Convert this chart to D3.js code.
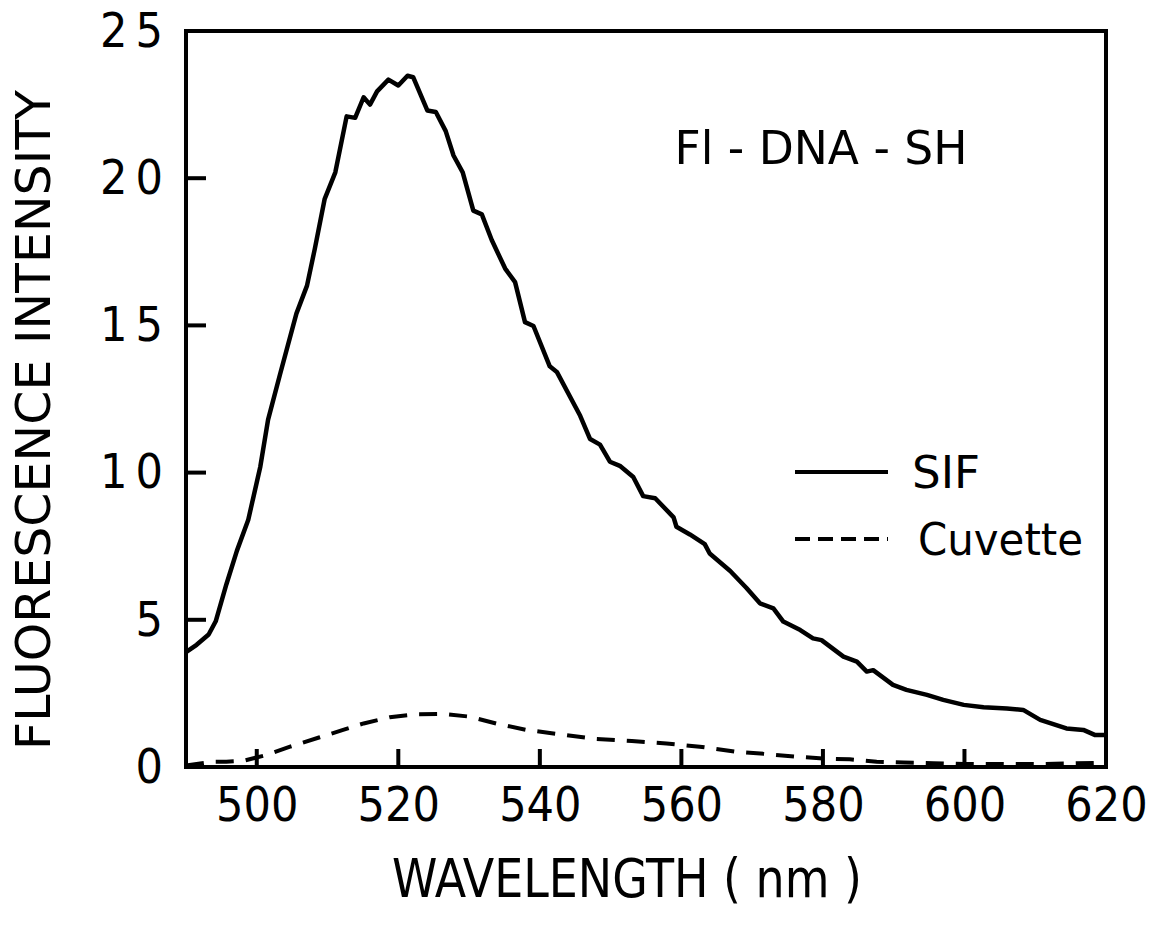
<!DOCTYPE html>
<html>
<head>
<meta charset="utf-8">
<script src="https://cdn.jsdelivr.net/npm/d3@7"></script>
<style>
  body { margin: 0; background: #fff; }
  text { font-family: "DejaVu Sans Condensed", "DejaVu Sans", sans-serif; fill: #000; }
</style>
</head>
<body>
<div id="chart"></div>
<script>
// wavelength (nm) / intensity
var sifWave = [490, 491.5, 493.2, 494.2, 495.7, 497.2, 498.8, 500.5, 501.6, 503.3, 505.6, 507.1, 508.2, 509.6,
  511.1, 512.7, 513.9, 515.1, 516, 517, 518.6, 520, 521.3, 522.1, 524.1, 525.3, 526.7, 527.8, 529.1, 530.6,
  531.8, 533.2, 535.1, 536.5, 537.9, 539.1, 541.4, 542.4, 545.7, 547.1, 548.5, 549.9, 551.3, 553.2, 554.6,
  556.3, 558.9, 559.3, 561.2, 563.3, 564, 566.9, 569.2, 571.1, 573, 574.4, 576.8, 578.6, 579.8, 582.9,
  584.8, 586.2, 587.1, 589.9, 591.8, 594.7, 597, 599.9, 602.7, 606, 608.3, 610.7, 614.4, 616.8, 618.4, 620];
var sifValue = [3.9, 4.15, 4.5, 4.95, 6.2, 7.35, 8.4, 10.2, 11.8, 13.35, 15.4, 16.35, 17.6, 19.3,
  20.2, 22.1, 22.05, 22.75, 22.5, 22.95, 23.35, 23.15, 23.48, 23.43, 22.3, 22.25, 21.6, 20.77, 20.2, 18.9,
  18.77, 17.9, 16.93, 16.47, 15.11, 14.98, 13.61, 13.42, 11.93, 11.14, 10.95, 10.37, 10.23, 9.85, 9.2,
  9.13, 8.48, 8.16, 7.9, 7.57, 7.25, 6.66, 6.08, 5.56, 5.39, 4.94, 4.65, 4.37, 4.31, 3.75,
  3.58, 3.24, 3.29, 2.79, 2.62, 2.45, 2.28, 2.11, 2.03, 1.99, 1.94, 1.6, 1.31, 1.26, 1.09, 1.09];

var cuvWave = [490, 492, 493.9, 495.7, 498.1, 501.4, 504.7, 508.9, 512.2, 515.1, 518.8, 522.6, 526.4, 530.1,
  534.1, 538.1, 543.5, 548, 553, 557.9, 562.6, 567.6, 572, 576.3, 580, 583.8, 587.6, 591.4, 595.6, 600,
  605, 610, 615, 620];
var cuvValue = [0.05, 0.12, 0.18, 0.18, 0.21, 0.41, 0.69, 1.01, 1.26, 1.48, 1.69, 1.79, 1.8, 1.71,
  1.46, 1.26, 1.09, 0.95, 0.88, 0.8, 0.69, 0.52, 0.44, 0.35, 0.29, 0.26, 0.18, 0.15, 0.13, 0.1,
  0.1, 0.1, 0.12, 0.15];

var xTicks = [500, 520, 540, 560, 580, 600, 620];
var yTicks = [0, 5, 10, 15, 20, 25];

function pairs(xs, ys) {
  var out = [];
  for (var i = 0; i < xs.length; i++) {
    out.push({ w: xs[i], v: ys[i] });
  }
  return out;
}

var W = 1163, H = 925;
var plotLeft = 186, plotRight = 1106, plotTop = 31, plotBottom = 767;

var svg = d3.select("#chart").append("svg")
  .attr("width", W)
  .attr("height", H);

var x = d3.scaleLinear().domain([490, 620]).range([plotLeft, plotRight]);
var y = d3.scaleLinear().domain([0, 25]).range([plotBottom, plotTop]);

// axis labels through d3 axes, tick marks drawn separately (inward)
var gx = svg.append("g")
  .attr("transform", "translate(0," + plotBottom + ")")
  .call(d3.axisBottom(x).tickValues(xTicks).tickSize(0).tickPadding(20));
gx.select(".domain").remove();
gx.selectAll(".tick line").remove();
gx.selectAll(".tick text").attr("font-size", 48).attr("fill", "#000");

var gy = svg.append("g")
  .attr("transform", "translate(" + plotLeft + ",0)")
  .call(d3.axisLeft(y).tickValues(yTicks).tickSize(0).tickPadding(23));
gy.select(".domain").remove();
gy.selectAll(".tick line").remove();
gy.selectAll(".tick text")
  .attr("font-size", 48)
  .attr("fill", "#000")
  .attr("letter-spacing", 8)
  .attr("dx", 8);

svg.selectAll("line.xtick").data(xTicks.filter(function(d) { return d < 620; })).enter()
  .append("line")
    .attr("class", "xtick")
    .attr("x1", function(d) { return x(d); })
    .attr("x2", function(d) { return x(d); })
    .attr("y1", plotBottom)
    .attr("y2", plotBottom - 18)
    .attr("stroke", "#000")
    .attr("stroke-width", 4);

svg.selectAll("line.ytick").data(yTicks.filter(function(d) { return d > 0 && d < 25; })).enter()
  .append("line")
    .attr("class", "ytick")
    .attr("x1", plotLeft)
    .attr("x2", plotLeft + 20)
    .attr("y1", function(d) { return y(d); })
    .attr("y2", function(d) { return y(d); })
    .attr("stroke", "#000")
    .attr("stroke-width", 4);

// frame
svg.append("rect")
  .attr("x", plotLeft).attr("y", plotTop)
  .attr("width", plotRight - plotLeft).attr("height", plotBottom - plotTop)
  .attr("fill", "none")
  .attr("stroke", "#000")
  .attr("stroke-width", 4);

var line = d3.line()
  .x(function(d) { return x(d.w); })
  .y(function(d) { return y(d.v); });

svg.append("path")
  .datum(pairs(sifWave, sifValue))
  .attr("fill", "none")
  .attr("stroke", "#000")
  .attr("stroke-width", 4.5)
  .attr("stroke-linejoin", "round")
  .attr("d", line);

svg.append("path")
  .datum(pairs(cuvWave, cuvValue))
  .attr("fill", "none")
  .attr("stroke", "#000")
  .attr("stroke-width", 4)
  .attr("stroke-dasharray", "18,12")
  .attr("d", line);

// axis titles
svg.append("text")
  .attr("transform", "translate(50,420) rotate(-90)")
  .attr("text-anchor", "middle")
  .attr("font-size", 48)
  .attr("textLength", 660)
  .attr("lengthAdjust", "spacingAndGlyphs")
  .text("FLUORESCENCE INTENSITY");

svg.append("text")
  .attr("x", 627).attr("y", 897)
  .attr("text-anchor", "middle")
  .attr("font-size", 54)
  .attr("textLength", 470)
  .attr("lengthAdjust", "spacingAndGlyphs")
  .text("WAVELENGTH ( nm )");

// sample label
svg.append("text")
  .attr("x", 821).attr("y", 164)
  .attr("text-anchor", "middle")
  .attr("font-size", 46)
  .attr("textLength", 293)
  .attr("lengthAdjust", "spacingAndGlyphs")
  .text("Fl - DNA - SH");

// legend
var legend = [
  { name: "SIF", dash: null, y: 472, tx: 912, tw: 68 },
  { name: "Cuvette", dash: "15,8", y: 539, tx: 918, tw: 165 }
];
legend.forEach(function(d) {
  svg.append("line")
    .attr("x1", 795).attr("x2", 888)
    .attr("y1", d.y).attr("y2", d.y)
    .attr("stroke", "#000")
    .attr("stroke-width", 4)
    .attr("stroke-dasharray", d.dash);
  svg.append("text")
    .attr("x", d.tx).attr("y", d.y + 16)
    .attr("font-size", 44)
    .attr("textLength", d.tw)
    .attr("lengthAdjust", "spacingAndGlyphs")
    .text(d.name);
});
</script>
</body>
</html>
